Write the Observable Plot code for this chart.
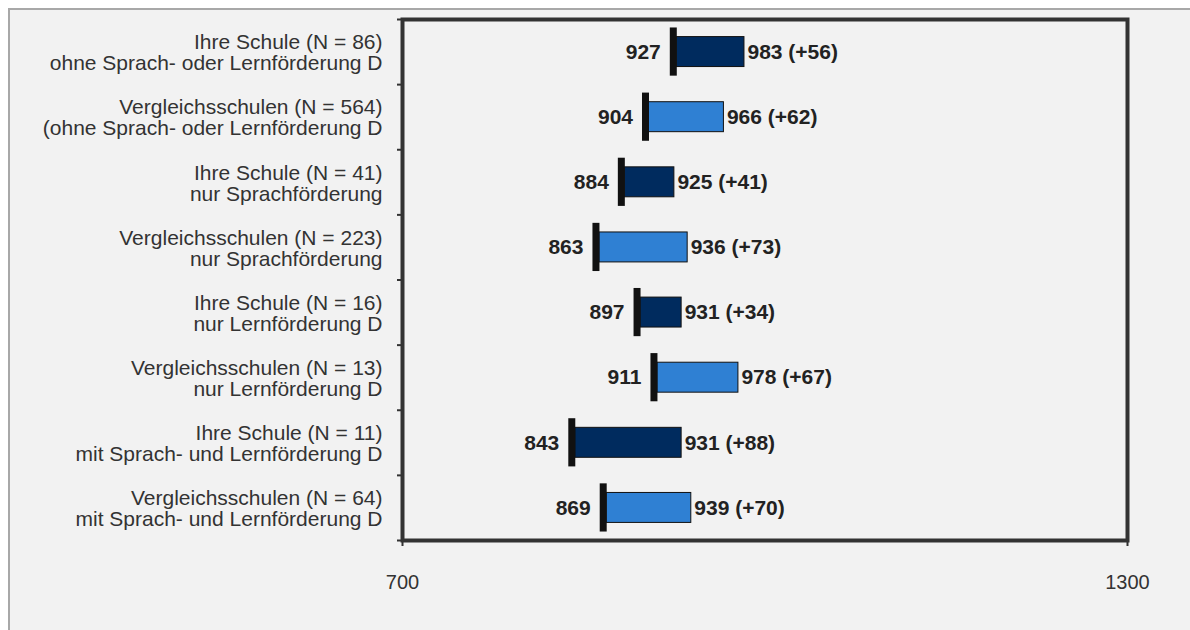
<!DOCTYPE html>
<html>
<head>
<meta charset="utf-8">
<script src="https://cdn.jsdelivr.net/npm/d3@7"></script>
<script src="https://cdn.jsdelivr.net/npm/@observablehq/plot@0.6"></script>
<style>
  html, body { margin: 0; padding: 0; background: #ffffff; width: 1190px; height: 630px; overflow: hidden; }
  #panel { position: absolute; left: 8px; top: 8px; width: 1190px; height: 630px; background: #f2f2f2;
           border-left: 2px solid #a8a8a8; border-top: 2px solid #a8a8a8; }
  #chart { position: absolute; left: 0; top: 0; }
</style>
</head>
<body>
<div id="panel"></div>
<div id="chart"></div>
<script>
const groups = [
  "Ihre Schule (N = 86)\nohne Sprach- oder Lernförderung D",
  "Vergleichsschulen (N = 564)\n(ohne Sprach- oder Lernförderung D",
  "Ihre Schule (N = 41)\nnur Sprachförderung",
  "Vergleichsschulen (N = 223)\nnur Sprachförderung",
  "Ihre Schule (N = 16)\nnur Lernförderung D",
  "Vergleichsschulen (N = 13)\nnur Lernförderung D",
  "Ihre Schule (N = 11)\nmit Sprach- und Lernförderung D",
  "Vergleichsschulen (N = 64)\nmit Sprach- und Lernförderung D"
];
const startValues = [927, 904, 884, 863, 897, 911, 843, 869];
const endValues   = [983, 966, 925, 936, 931, 978, 931, 939];
const kinds = ["own", "comp", "own", "comp", "own", "comp", "own", "comp"];
const xTicks = [700, 1300];

const data = groups.map((g, i) => ({
  i, label: g, start: startValues[i], end: endValues[i], kind: kinds[i],
  diff: endValues[i] - startValues[i]
}));

const font = "'Liberation Sans', Arial, sans-serif";

const chart = Plot.plot({
  width: 1190,
  height: 630,
  marginLeft: 402,
  marginRight: 63,
  marginTop: 19,
  marginBottom: 90,
  style: { background: "transparent", fontFamily: font, fontSize: "20px", color: "#333" },
  x: { domain: [700, 1300], label: null },
  y: { domain: [7.5, -0.5], label: null },
  color: { domain: ["own", "comp"], range: ["#002b5e", "#2f80d3"] },
  marks: [
    Plot.axisX({ ticks: xTicks, tickSize: 6, tickPadding: 28, stroke: "#333", strokeWidth: 2,
                 fontSize: 20, fill: "#333", tickFormat: d => String(d), label: null }),
    Plot.axisY({ ticks: d3.range(-0.5, 8, 1), tickSize: 5, stroke: "#333", strokeWidth: 2,
                 tickFormat: () => "", label: null }),
    Plot.text(data, { x: 700, y: "i", text: "label", dx: -20, dy: 1, textAnchor: "end",
                      lineHeight: 1.0, fontSize: 21, fill: "#333", fontFamily: font }),
    Plot.rectX(data, { x1: "start", x2: "end", y1: d => d.i - 0.23, y2: d => d.i + 0.23,
                       fill: "kind", stroke: "#111", strokeWidth: 1 }),
    Plot.ruleX(data, { x: "start", y1: d => d.i - 0.37, y2: d => d.i + 0.37,
                       stroke: "#111", strokeWidth: 7, dx: -3.5 }),
    Plot.text(data, { x: "start", y: "i", text: d => String(d.start), dx: -16, textAnchor: "end",
                      fontWeight: "bold", fontSize: 21, fill: "#222", fontFamily: font }),
    Plot.text(data, { x: "end", y: "i", text: d => `${d.end} (+${d.diff})`, dx: 3, textAnchor: "start",
                      fontWeight: "bold", fontSize: 21, fill: "#222", fontFamily: font }),
    Plot.frame({ stroke: "#333", strokeWidth: 4 })
  ]
});
document.getElementById("chart").appendChild(chart);
</script>
</body>
</html>
